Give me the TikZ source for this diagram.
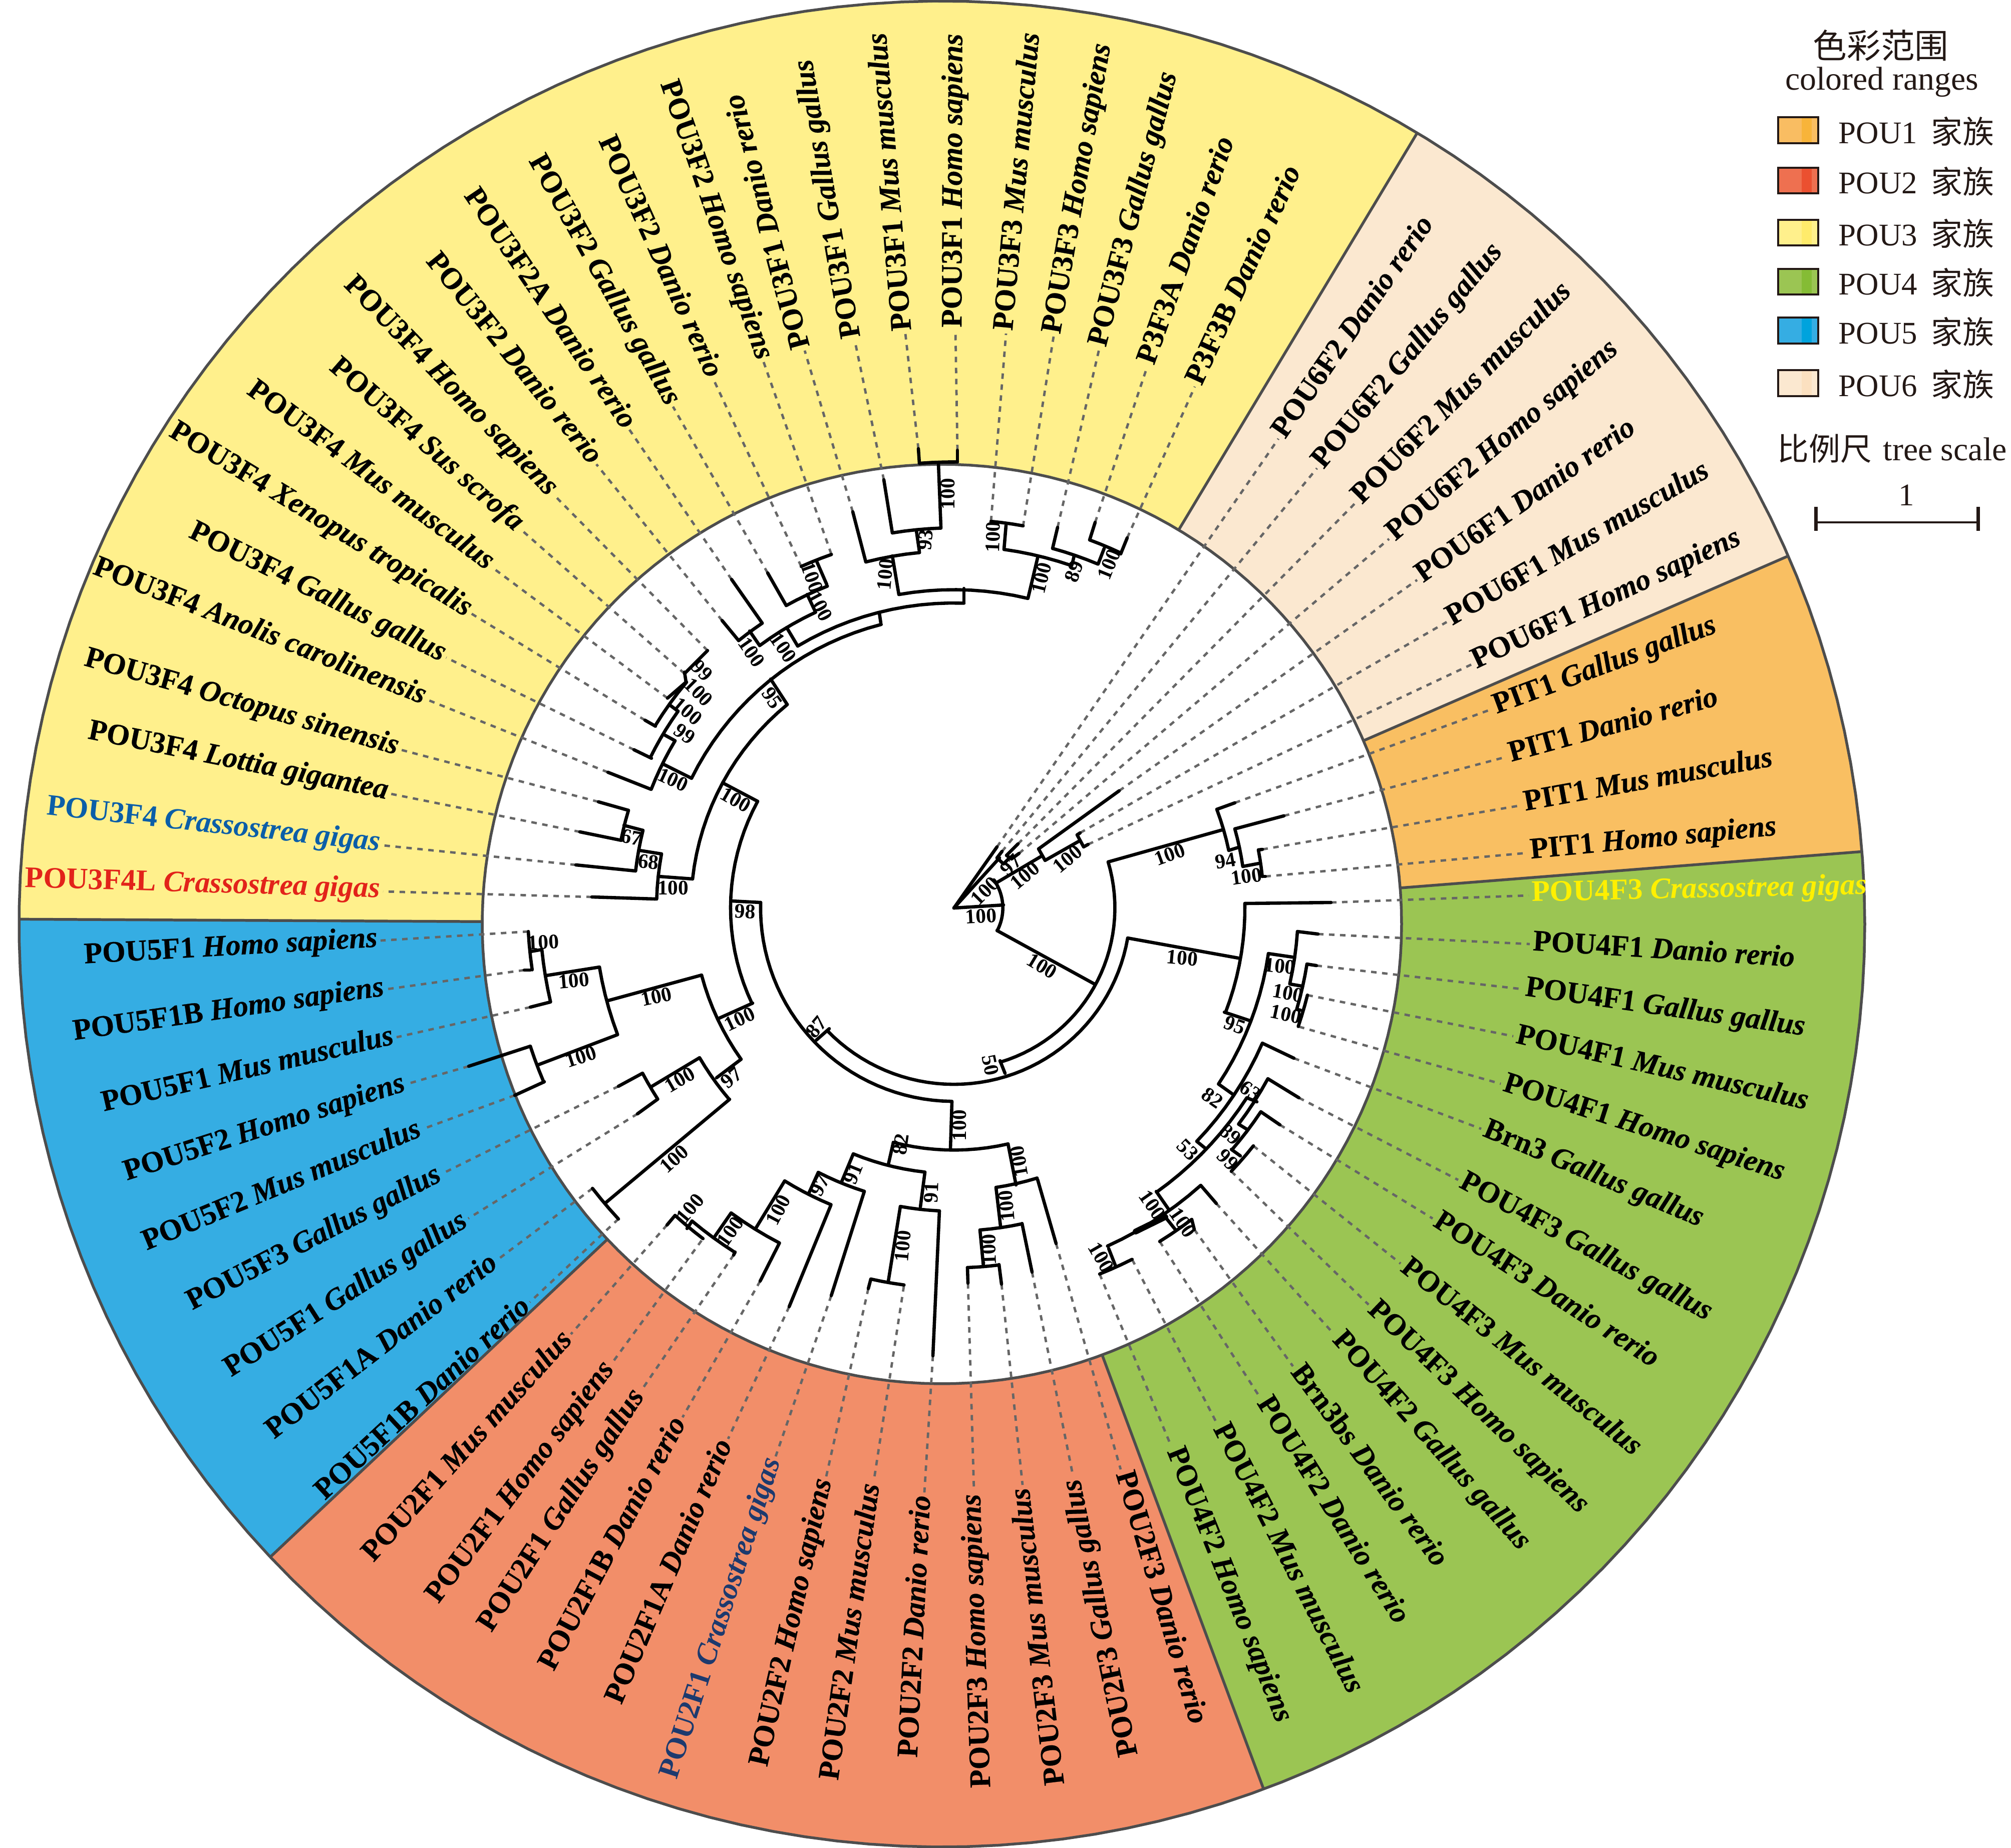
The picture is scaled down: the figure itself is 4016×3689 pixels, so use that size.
\documentclass[tikz,border=0pt]{standalone}
\usepackage{fontspec}
\setmainfont{Liberation Serif}
\newfontfamily\cjkf{Noto Sans CJK SC}
\newfontfamily\blkf{Liberation Serif}[BoldFeatures={FakeBold=0.4},BoldItalicFeatures={FakeBold=0.4}]
\definecolor{cPone}{HTML}{F9BF62}\definecolor{cPtwo}{HTML}{F28E69}\definecolor{cPthree}{HTML}{FFF08C}
\definecolor{cPfour}{HTML}{9BC553}\definecolor{cPfive}{HTML}{35ADE3}\definecolor{cPsix}{HTML}{FBE8D0}
\definecolor{bPone}{HTML}{F8B43A}\definecolor{bPtwo}{HTML}{EB5030}\definecolor{bPthree}{HTML}{FFEB6B}
\definecolor{bPfour}{HTML}{85BC35}\definecolor{bPfive}{HTML}{00A3DD}\definecolor{bPsix}{HTML}{FBE0C0}
\definecolor{lPone}{HTML}{F9BD62}\definecolor{lPtwo}{HTML}{EE7050}
\definecolor{ringedge}{HTML}{4D4D4D}\definecolor{dashc}{HTML}{666666}\definecolor{ink}{HTML}{231815}
\definecolor{lblue}{HTML}{0B5EA8}\definecolor{lred}{HTML}{E2231A}\definecolor{lnavy}{HTML}{1D3A6E}\definecolor{lyel}{HTML}{FFF000}
\def\RX{1881}\def\RY{1845}\def\RO{1843}\def\RI{918}
\def\TX{1905}\def\TY{1813}
\tikzset{
 treeline/.style={line width=1.8pt,black,line cap=round,line join=round},
 leafdash/.style={line width=1.3pt,dashc,dash pattern=on 3pt off 3pt},
 leaflab/.style={inner ysep=0pt,inner xsep=1.5pt,text height=.66em,text depth=0pt,font=\fontsize{16.3}{18}\selectfont\blkf\bfseries},
 bootlab/.style={inner sep=0pt,font=\fontsize{11.3}{12}\selectfont\bfseries},
 ringline/.style={line width=1.5pt,ringedge},
 legtxt/.style={inner sep=0pt,anchor=base west,text=ink,font=\fontsize{17.2}{19}\selectfont},
 legbox/.style={draw=ink,line width=.9pt},
}
\newcommand\sector[3]{\fill[#1] (\RX,\RY) -- plot[domain=-#2:-#3,samples=60] ({\RX+\RO*cos(\x)},{\RY+\RO*sin(\x)}) -- cycle;}
\newcommand\sepline[1]{\draw[ringline] ({\RX+\RI*cos(#1)},{\RY-\RI*sin(#1)}) -- ({\RX+\RO*cos(#1)},{\RY-\RO*sin(#1)});}
\newcommand\tseg[4]{\draw[treeline] (#1,#2) -- (#3,#4);}
\newcommand\tarc[4]{%
 \pgfmathsetmacro\tR{veclen(#1-\TX,#2-\TY)}%
 \pgfmathsetmacro\aS{atan2(#2-\TY,#1-\TX)}%
 \pgfmathsetmacro\aE{atan2(#4-\TY,#3-\TX)}%
 \pgfmathsetmacro\tD{\aE-\aS}%
 \pgfmathsetmacro\tD{\tD>180 ? \tD-360 : (\tD<-180 ? \tD+360 : \tD)}%
 \pgfmathsetmacro\aE{\aS+\tD}%
 \pgfmathtruncatemacro\tN{abs(\tD)/3+3}%
 \draw[treeline] plot[domain=\aS:\aE,samples=\tN] ({\TX+\tR*cos(\x)},{\TY+\tR*sin(\x)});}
\newcommand\leafO[7][black]{%
 \pgfmathsetmacro\lA{atan2(\TY-#5,#4-\TX)}%
 \coordinate (t#2) at (#3);
 \node[leaflab,anchor=west,rotate=\lA,text=#1] (l#2) at (#4,#5) {#6 \textit{#7}};
 \draw[leafdash] (t#2) -- (l#2.west);}
\newcommand\leafI[7][black]{%
 \pgfmathsetmacro\lA{atan2(\TY-#5,#4-\TX)+180}%
 \coordinate (t#2) at (#3);
 \node[leaflab,anchor=east,rotate=\lA,text=#1] (l#2) at (#4,#5) {#6 \textit{#7}};
 \draw[leafdash] (t#2) -- (l#2.east);}
\newcounter{bsn}
\newcommand\bsv[4]{\stepcounter{bsn}\node[bootlab,rotate=#3] (b\thebsn) at (#1,#2) {#4};}
\newcommand\legrow[5]{%
 \fill[#3] (3551,#1) rectangle (3631,#2);
 \fill[#4] (3598,#1) rectangle (3618,#2);
 \draw[legbox] (3551,#1) rectangle (3631,#2);
 \node[legtxt] (lg#5a) at (3671,#2) {POU#5};
 \node[legtxt] (lg#5b) at (3856,#2) {\cjkf 家族};}
\begin{document}
\begin{tikzpicture}[x=0.2733pt,y=-0.2733pt]
\useasboundingbox (0,0) rectangle (4016,3689);
% ring
\sector{cPthree}{59}{179.7}
\sector{cPfive}{179.7}{223.3}
\sector{cPtwo}{223.3}{290.4}
\sector{cPfour}{290.4}{364.5}
\sector{cPone}{4.5}{23.5}
\sector{cPsix}{23.5}{59}
\draw[ringline] plot[domain=0:360,samples=180] ({\RX+\RO*cos(\x)},{\RY+\RO*sin(\x)}) -- cycle;
\draw[ringline,fill=white] plot[domain=0:360,samples=180] ({\RX+\RI*cos(\x)},{\RY+\RI*sin(\x)}) -- cycle;
\sepline{59}\sepline{179.7}\sepline{223.3}\sepline{290.4}\sepline{4.5}\sepline{23.5}
% leaves: POU3 top, outward
\leafO{a1}{2251,1074}{2386}{772}{P3F3B}{Danio rerio}
\leafO{a2}{2187,1043}{2291}{732}{P3F3A}{Danio rerio}
\leafO{a3}{2112,1053}{2195}{697}{POU3F3}{Gallus gallus}
\leafO{a4}{2043,1051}{2104}{672}{POU3F3}{Homo sapiens}
\leafO{a5}{1979,1041}{2009}{666}{POU3F3}{Mus musculus}
\leafO{a6}{1912,899}{1908}{660}{POU3F1}{Homo sapiens}
\leafO{a7}{1834,896}{1808}{666}{POU3F1}{Mus musculus}
\leafO{a8}{1765,958}{1707}{680}{POU3F1}{Gallus gallus}
\leafO{a9}{1703,1022}{1607}{700}{POU3F1}{Danio rerio}
% POU3 left, inward
\leafI{c1}{1660,1106}{1525}{723}{POU3F2}{Homo sapiens}
\leafI{c2}{1600,1131}{1425}{758}{POU3F2}{Danio rerio}
\leafI{c3}{1533,1144}{1344}{812}{POU3F2}{Gallus gallus}
\leafI{c4}{1461,1157}{1257}{858}{POU3F2A}{Danio rerio}
\leafI{c5}{1442,1239}{1191}{927}{POU3F2}{Danio rerio}
\leafI{c6}{1413,1299}{1106}{988}{POU3F4}{Homo sapiens}
\leafI{c7}{1367,1345}{1040}{1057}{POU3F4}{Sus scrofa}
\leafI{c8}{1333,1394}{983}{1133}{POU3F4}{Mus musculus}
\leafI{c9}{1288,1438}{941}{1225}{POU3F4}{Xenopus tropicalis}
\leafI{c10}{1266,1497}{891}{1313}{POU3F4}{Gallus gallus}
\leafI{c11}{1214,1542}{853}{1397}{POU3F4}{Anolis carolinensis}
\leafI{c12}{1195,1601}{800}{1497}{POU3F4}{Octopus sinensis}
\leafI{c13}{1158,1661}{780}{1585}{POU3F4}{Lottia gigantea}
\leafI[lblue]{c14}{1150,1727}{765}{1688}{{\rmfamily POU3F4}}{\rmfamily Crassostrea gigas}
\leafI[lred]{c15}{1182,1791}{765}{1780}{{\rmfamily POU3F4L}}{\rmfamily Crassostrea gigas}
% POU5
\leafI{d1}{1055,1860}{760}{1878}{POU5F1}{Homo sapiens}
\leafI{d2}{1047,1937}{773}{1975}{POU5F1B}{Homo sapiens}
\leafI{d3}{1059,2011}{792}{2071}{POU5F1}{Mus musculus}
\leafI{d4}{936,2129}{814}{2164}{POU5F2}{Homo sapiens}
\leafI{d5}{1028,2187}{845}{2254}{POU5F2}{Mus musculus}
\leafI{d6}{1235,2169}{884}{2343}{POU5F3}{Gallus gallus}
\leafI{d7}{1273,2224}{935}{2433}{POU5F1}{Gallus gallus}
\leafI{d8}{1183,2373}{994}{2515}{POU5F1A}{Danio rerio}
\leafI{d9}{1235,2434}{1058}{2600}{POU5F1B}{Danio rerio}
% POU2
\leafI{e1}{1332,2446}{1140}{2664}{POU2F1}{Mus musculus}
\leafI{e2}{1401,2477}{1222}{2722}{POU2F1}{Homo sapiens}
\leafI{e3}{1465,2506}{1281}{2776}{POU2F1}{Gallus gallus}
\leafI{e4}{1518,2558}{1363}{2830}{POU2F1B}{Danio rerio}
\leafI{e5}{1576,2609}{1454}{2873}{POU2F1A}{Danio rerio}
\leafI[lnavy]{e6}{1660,2587}{1549}{2908}{{\rmfamily POU2F1}}{\rmfamily Crassostrea gigas}
\leafI{e7}{1734,2573}{1650}{2948}{POU2F2}{Homo sapiens}
\leafI{e8}{1805,2568}{1745}{2957}{POU2F2}{Mus musculus}
\leafI{e9}{1863,2707}{1846}{2980}{POU2F2}{Danio rerio}
\leafI{e10}{1933,2562}{1945}{2977}{POU2F3}{Homo sapiens}
\leafI{e11}{2000,2564}{2042}{2965}{POU2F3}{Mus musculus}
\leafI{e12}{2061,2540}{2143}{2948}{POU2F3}{Gallus gallus}
\leafO{e13}{2109,2483}{2238}{2934}{POU2F3}{Danio rerio}
% POU4
\leafO{f1}{2196,2544}{2339}{2888}{POU4F2}{Homo sapiens}
\leafO{f2}{2261,2515}{2430}{2842}{POU4F2}{Mus musculus}
\leafO{f3}{2316,2479}{2516}{2790}{POU4F2}{Danio rerio}
\leafO{f4}{2385,2455}{2582}{2728}{Brn3bs}{Danio rerio}
\leafO{f5}{2429,2403}{2664}{2664}{POU4F2}{Gallus gallus}
\leafO{f6}{2459,2339}{2733}{2605}{POU4F3}{Homo sapiens}
\leafO{f7}{2503,2288}{2797}{2523}{POU4F3}{Mus musculus}
\leafO{f8}{2556,2246}{2861}{2433}{POU4F3}{Danio rerio}
\leafO{f9}{2594,2192}{2912}{2356}{POU4F3}{Gallus gallus}
\leafO{f10}{2584,2113}{2958}{2254}{Brn3}{Gallus gallus}
\leafO{f11}{2594,2050}{2997}{2164}{POU4F1}{Homo sapiens}
\leafO{f12}{2611,1987}{3022}{2069}{POU4F1}{Mus musculus}
\leafO{f13}{2629,1928}{3040}{1975}{POU4F1}{Gallus gallus}
\leafO{f14}{2632,1865}{3055}{1885}{POU4F1}{Danio rerio}
\leafO[lyel]{f15}{2658,1802}{3053}{1788}{{\rmfamily POU4F3}}{\rmfamily Crassostrea gigas}
% PIT1
\leafO{g1}{2527,1750}{3050}{1703}{PIT1}{Homo sapiens}
\leafO{g2}{2521,1696}{3038}{1608}{PIT1}{Mus musculus}
\leafO{g3}{2564,1629}{3009}{1511}{PIT1}{Danio rerio}
\leafO{g4}{2466,1603}{2979}{1416}{PIT1}{Gallus gallus}
% POU6
\leafO{h1}{2173,1686}{2938}{1327}{POU6F1}{Homo sapiens}
\leafO{h2}{2157,1663}{2889}{1242}{POU6F1}{Mus musculus}
\leafO{h3}{2235,1579}{2830}{1158}{POU6F1}{Danio rerio}
\leafO{h4}{2035,1704}{2774}{1076}{POU6F2}{Homo sapiens}
\leafO{h5}{2033,1685}{2707}{1004}{POU6F2}{Mus musculus}
\leafO{h6}{2001,1700}{2630}{935}{POU6F2}{Gallus gallus}
\leafO{h7}{1991,1691}{2553}{876}{POU6F2}{Danio rerio}
% tree: root and POU6
\tseg{1905}{1813}{1991}{1691}
\tseg{1905}{1813}{1996}{1713}
\tseg{1905}{1813}{2004}{1807}
\tseg{1991}{1713}{2004}{1725}\tseg{1991}{1713}{2001}{1700}
\tseg{2004}{1725}{2017}{1712}\tseg{2010}{1708}{2020}{1715}
\tseg{2010}{1708}{2033}{1685}\tseg{2020}{1715}{2035}{1704}
\tarc{1985}{1757}{1991}{1858}
\tseg{1991}{1762}{2079}{1710}\tseg{2074}{1695}{2087}{1718}
\tseg{2074}{1695}{2235}{1579}\tseg{2087}{1718}{2154}{1680}
\tseg{2151}{1667}{2164}{1691}\tseg{2151}{1667}{2157}{1663}\tseg{2164}{1691}{2173}{1686}
\tseg{1991}{1858}{2186}{1965}
% main arcs
\tarc{2213}{1721}{1997}{2118}
\tseg{1997}{2118}{2007}{2143}
\tarc{2252}{1873}{1656}{2054}
\tseg{1656}{2054}{1630}{2077}
\tarc{1519}{1802}{1901}{2200}
\tseg{1461}{1799}{1519}{1802}
\tarc{1513}{1600}{1503}{2003}
% PIT1
\tseg{2213}{1721}{2441}{1657}
\tarc{2430}{1616}{2454}{1698}
\tseg{2430}{1616}{2466}{1603}\tseg{2454}{1698}{2473}{1692}
\tarc{2466}{1655}{2482}{1730}
\tseg{2466}{1655}{2564}{1629}\tseg{2482}{1730}{2514}{1724}
\tarc{2513}{1697}{2521}{1750}
\tseg{2513}{1697}{2521}{1696}\tseg{2521}{1750}{2527}{1750}
% POU4
\tseg{2252}{1873}{2473}{1913}
\tarc{2486}{1804}{2445}{2021}
\tseg{2486}{1804}{2658}{1802}
\tseg{2445}{2021}{2496}{2038}
\tarc{2533}{1904}{2434}{2165}
\tseg{2533}{1904}{2581}{1911}
\tarc{2591}{1860}{2577}{1965}
\tseg{2591}{1860}{2632}{1865}\tseg{2577}{1965}{2600}{1969}
\tarc{2610}{1925}{2591}{2016}
\tseg{2610}{1925}{2629}{1928}\tseg{2591}{2016}{2597}{2017}
\tarc{2611}{1987}{2594}{2050}
\tseg{2434}{2165}{2462}{2185}
\tarc{2521}{2083}{2390}{2279}
\tseg{2521}{2083}{2584}{2113}
\tseg{2390}{2279}{2406}{2292}
\tarc{2490}{2192}{2309}{2379}
\tseg{2490}{2192}{2510}{2200}
\tarc{2532}{2154}{2474}{2245}
\tseg{2532}{2154}{2594}{2192}
\tseg{2474}{2245}{2492}{2256}
\tarc{2518}{2220}{2459}{2295}
\tseg{2518}{2220}{2556}{2246}\tseg{2459}{2295}{2477}{2308}
\tarc{2503}{2288}{2459}{2339}
\tseg{2309}{2379}{2334}{2415}
\tarc{2398}{2367}{2214}{2493}
\tseg{2398}{2367}{2429}{2403}
\draw[treeline,line width=3.2pt] (2268,2459) -- (2327,2430);
\tseg{2327}{2430}{2347}{2455}
\tarc{2316}{2479}{2380}{2435}
\tseg{2380}{2435}{2385}{2455}
\tseg{2214}{2493}{2227}{2526}
\tarc{2196}{2544}{2261}{2515}
% POU2
\tseg{1901}{2200}{1898}{2294}
\tarc{1784}{2281}{2013}{2284}
\tseg{1784}{2281}{1774}{2325}
\tarc{1704}{2304}{1847}{2341}
\tseg{1847}{2341}{1838}{2410}
\tarc{1798}{2409}{1876}{2418}
\tseg{1876}{2418}{1863}{2707}
\tseg{1798}{2409}{1774}{2558}
\tarc{1739}{2554}{1805}{2568}
\tseg{1739}{2554}{1734}{2573}
\tseg{1704}{2304}{1681}{2359}
\tarc{1634}{2341}{1726}{2379}
\tseg{1726}{2379}{1660}{2587}
\tseg{1634}{2341}{1615}{2383}
\tarc{1567}{2358}{1659}{2407}
\tseg{1659}{2407}{1576}{2609}
\tseg{1567}{2358}{1509}{2453}
\tarc{1460}{2422}{1556}{2483}
\tseg{1556}{2483}{1518}{2558}
\tseg{1460}{2422}{1428}{2468}
\tarc{1382}{2438}{1468}{2500}
\tseg{1468}{2500}{1465}{2506}
\tseg{1382}{2438}{1372}{2453}
\tarc{1348}{2427}{1401}{2477}
\tseg{1348}{2427}{1332}{2446}
\tseg{2013}{2284}{2029}{2366}
\tarc{1989}{2371}{2072}{2355}
\tseg{2072}{2355}{2109}{2483}
\tseg{1989}{2371}{1998}{2448}
\tarc{1957}{2456}{2041}{2443}
\tseg{2041}{2443}{2061}{2540}
\tseg{1957}{2456}{1964}{2529}
\tarc{1932}{2531}{1995}{2525}
\tseg{1932}{2531}{1933}{2562}\tseg{1995}{2525}{2000}{2564}
% POU5
\tseg{1503}{2003}{1434}{2034}
\tarc{1401}{1947}{1480}{2115}
\tseg{1401}{1947}{1214}{1998}
\tarc{1197}{1931}{1233}{2066}
\tseg{1197}{1931}{1090}{1948}
\tarc{1082}{1896}{1098}{2001}
\tseg{1082}{1896}{1059}{1900}
\tarc{1055}{1860}{1059}{1937}
\tseg{1059}{1937}{1047}{1937}
\tseg{1098}{2001}{1059}{2011}
\tseg{1233}{2066}{1075}{2126}
\tarc{1059}{2089}{1087}{2160}
\tseg{1059}{2089}{936}{2129}\tseg{1087}{2160}{1028}{2187}
\tseg{1480}{2115}{1431}{2152}
\tarc{1397}{2112}{1457}{2195}
\tseg{1397}{2112}{1302}{2169}
\tarc{1283}{2143}{1313}{2195}
\tseg{1283}{2143}{1235}{2169}\tseg{1313}{2195}{1273}{2224}
\tseg{1457}{2195}{1209}{2402}
\tarc{1183}{2373}{1235}{2434}
% POU3
\tseg{1443}{1563}{1513}{1600}
\tarc{1383}{1755}{1571}{1405}
\tseg{1383}{1755}{1316}{1750}
\tarc{1321}{1705}{1309}{1795}
\tseg{1309}{1795}{1182}{1791}
\tseg{1321}{1705}{1277}{1698}
\tarc{1284}{1658}{1269}{1739}
\tseg{1269}{1739}{1150}{1727}
\tseg{1284}{1658}{1246}{1648}
\tarc{1255}{1618}{1241}{1678}
\tseg{1255}{1618}{1195}{1601}\tseg{1241}{1678}{1158}{1661}
\tseg{1571}{1405}{1539}{1356}
\tarc{1381}{1554}{1759}{1244}
\tseg{1381}{1554}{1325}{1526}
\tarc{1348}{1479}{1300}{1576}
\tseg{1300}{1576}{1214}{1542}
\tseg{1348}{1479}{1328}{1468}
\tarc{1354}{1420}{1301}{1514}
\tseg{1301}{1514}{1266}{1497}
\tseg{1354}{1420}{1338}{1408}
\tarc{1371}{1362}{1309}{1450}
\tseg{1309}{1450}{1288}{1438}
\tseg{1413}{1299}{1367}{1345}\tseg{1370}{1362}{1333}{1394}\tseg{1367}{1342}{1370}{1362}
\tseg{1759}{1244}{1756}{1224}
\tarc{1593}{1290}{1925}{1204}
\tseg{1593}{1290}{1571}{1253}
\tarc{1517}{1289}{1628}{1221}
\tseg{1628}{1221}{1612}{1187}
\tarc{1570}{1209}{1651}{1167}
\tseg{1651}{1167}{1631}{1121}
\tarc{1600}{1131}{1660}{1106}
\tseg{1570}{1209}{1533}{1144}
\tseg{1517}{1289}{1497}{1260}
\tarc{1475}{1279}{1522}{1244}
\tseg{1522}{1244}{1461}{1157}
\tseg{1475}{1279}{1442}{1239}
\tseg{1925}{1204}{1925}{1175}
\tarc{1795}{1187}{2053}{1194}
\tseg{1795}{1187}{1782}{1110}
\tarc{1729}{1122}{1836}{1101}
\tseg{1729}{1122}{1703}{1022}
\tseg{1836}{1101}{1830}{1060}
\tarc{1782}{1064}{1879}{1053}
\tseg{1782}{1064}{1765}{958}
\tseg{1879}{1053}{1874}{925}
\tarc{1836}{925}{1912}{921}
\tseg{1836}{925}{1834}{896}\tseg{1912}{921}{1912}{899}
\tseg{2053}{1194}{2073}{1110}
\tarc{2005}{1097}{2141}{1127}
\tseg{2005}{1097}{2009}{1049}
\tarc{1979}{1041}{2043}{1051}
\tseg{2141}{1127}{2145}{1110}
\tarc{2102}{1095}{2193}{1126}
\tseg{2102}{1095}{2112}{1053}
\tseg{2193}{1126}{2205}{1095}
\tarc{2176}{1078}{2238}{1106}
\tseg{2176}{1078}{2187}{1043}\tseg{2238}{1106}{2251}{1074}
% bootstrap values
\bsv{1959}{1829}{3}{100}\bsv{1967}{1779}{45}{100}\bsv{2019}{1727}{45}{97}
\bsv{2047}{1748}{40}{100}\bsv{2132}{1715}{40}{100}\bsv{2336}{1706}{20}{100}
\bsv{2447}{1719}{10}{94}\bsv{2489}{1750}{8}{100}\bsv{2081}{1929}{-31}{100}
\bsv{2361}{1913}{-5}{100}\bsv{2556}{1929}{-6}{100}\bsv{2572}{1983}{-10}{100}
\bsv{2568}{2025}{-12}{100}\bsv{2466}{2047}{-20}{95}
\bsv{2421}{2192}{-35}{82}\bsv{2497}{2178}{-35}{63}\bsv{2372}{2296}{-45}{53}
\bsv{2457}{2265}{-40}{89}\bsv{2452}{2316}{-45}{99}\bsv{2301}{2406}{-55}{100}
\bsv{2362}{2441}{-55}{100}\bsv{2199}{2511}{-60}{100}
\bsv{1978}{2127}{-78}{50}\bsv{1916}{2247}{90}{100}
\bsv{1893}{986}{90}{100}\bsv{1848}{1078}{85}{93}\bsv{1768}{1147}{85}{100}
\bsv{1983}{1072}{88}{100}\bsv{2080}{1154}{76}{100}\bsv{2145}{1141}{70}{89}\bsv{2215}{1127}{68}{100}
\bsv{1622}{1153}{-70}{100}\bsv{1638}{1210}{-62}{100}\bsv{1564}{1293}{-55}{100}
\bsv{1501}{1302}{-55}{100}\bsv{1542}{1394}{-55}{95}\bsv{1402}{1339}{-45}{99}
\bsv{1395}{1382}{-45}{100}\bsv{1373}{1420}{-40}{100}\bsv{1367}{1465}{-35}{99}
\bsv{1344}{1557}{-25}{100}\bsv{1469}{1597}{-30}{100}\bsv{1261}{1672}{-10}{67}
\bsv{1295}{1721}{-5}{68}\bsv{1344}{1773}{0}{100}
\bsv{1488}{1820}{-3}{98}\bsv{1085}{1881}{3}{100}\bsv{1146}{1958}{5}{100}
\bsv{1311}{1990}{12}{100}\bsv{1477}{2035}{25}{100}\bsv{1160}{2110}{18}{100}
\bsv{1630}{2051}{50}{87}\bsv{1461}{2152}{40}{97}\bsv{1358}{2156}{30}{100}
\bsv{1346}{2314}{42}{100}\bsv{1378}{2413}{50}{100}\bsv{1458}{2459}{55}{100}
\bsv{1554}{2416}{62}{100}\bsv{1637}{2367}{62}{97}\bsv{1704}{2343}{68}{91}
\bsv{1799}{2285}{82}{82}\bsv{1860}{2381}{88}{91}\bsv{1803}{2488}{85}{100}
\bsv{2035}{2319}{100}{100}\bsv{2010}{2408}{95}{100}\bsv{1975}{2495}{92}{100}
% legend
\node[legtxt,anchor=center,font=\fontsize{18.5}{20}\selectfont] (legT) at (3756,91) {\cjkf 色彩范围};
\node[legtxt,anchor=center,font=\fontsize{18}{20}\selectfont] (legS) at (3758,164) {colored ranges};
\legrow{234}{286}{lPone}{bPone}{1}
\legrow{335}{386}{lPtwo}{bPtwo}{2}
\legrow{439}{490}{cPthree}{bPthree}{3}
\legrow{537}{588}{cPfour}{bPfour}{4}
\legrow{634}{686}{cPfive}{bPfive}{5}
\legrow{739}{791}{cPsix}{bPsix}{6}
\node[legtxt] (scaleC) at (3549,919) {\cjkf 比例尺};
\node[legtxt,font=\fontsize{18}{20}\selectfont] (scaleE) at (3760,919) {tree scale};
\node[legtxt,anchor=base,text=ink] (scaleN) at (3807,1009) {1};
\coordinate (sa) at (3626,1043);\coordinate (sb) at (3950,1043);
\draw[ink,line width=1.3pt] (sa) -- (sb);
\draw[ink,line width=1.9pt] (3626,1012) -- (3626,1060);
\draw[ink,line width=1.9pt] (3950,1012) -- (3950,1060);
\end{tikzpicture}
\end{document}
